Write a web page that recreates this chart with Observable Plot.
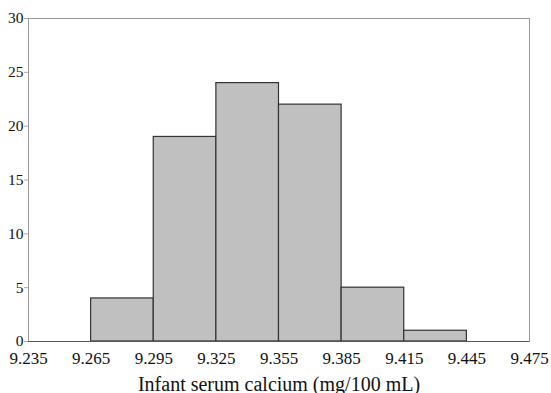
<!DOCTYPE html>
<html>
<head>
<meta charset="utf-8">
<script src="https://cdn.jsdelivr.net/npm/d3@7"></script>
<script src="https://cdn.jsdelivr.net/npm/@observablehq/plot@0.6"></script>
<style>
  html, body { margin: 0; padding: 0; background: #fff; }
  #chart { width: 551px; height: 393px; }
</style>
</head>
<body>
<div id="chart"></div>
<script>
const binStarts = [9.265, 9.295, 9.325, 9.355, 9.385, 9.415];
const binWidth = 0.03;
const counts = [4, 19, 24, 22, 5, 1];
const xTicks = [9.235, 9.265, 9.295, 9.325, 9.355, 9.385, 9.415, 9.445, 9.475];
const yTicks = [0, 5, 10, 15, 20, 25, 30];
const xLabel = "Infant serum calcium (mg/100 mL)";

const data = binStarts.map((s, i) => ({x1: s, x2: s + binWidth, y: counts[i]}));

const chart = Plot.plot({
  width: 551,
  height: 393,
  marginLeft: 28,
  marginRight: 22,
  marginTop: 18,
  marginBottom: 52,
  style: {fontFamily: "'Liberation Serif', 'Times New Roman', serif", fontSize: "16px", color: "#111", background: "#fff"},
  x: {domain: [9.235, 9.475], label: null},
  y: {domain: [0, 30], label: null},
  marks: [
    Plot.frame({stroke: "#999", strokeWidth: 1}),
    Plot.rectY(data, {x1: "x1", x2: "x2", y: "y", fill: "#c0c0c0", stroke: "#333", strokeWidth: 1.2, inset: 0}),
    Plot.axisY({ticks: yTicks, tickSize: 4, tickPadding: 1, stroke: "#aaa", fill: "#111", fontSize: 15.5, label: null}),
    Plot.axisX({ticks: xTicks, tickFormat: d3.format(".3f"), tickSize: 0, tickPadding: 10, fill: "#111", fontSize: 17, label: null}),
    Plot.ruleY([0], {stroke: "#555"}),
    Plot.text([xLabel], {frameAnchor: "bottom", lineAnchor: "bottom", dy: 49, fontSize: 20, fill: "#111", text: d => d})
  ]
});
document.getElementById("chart").appendChild(chart);
</script>
</body>
</html>
